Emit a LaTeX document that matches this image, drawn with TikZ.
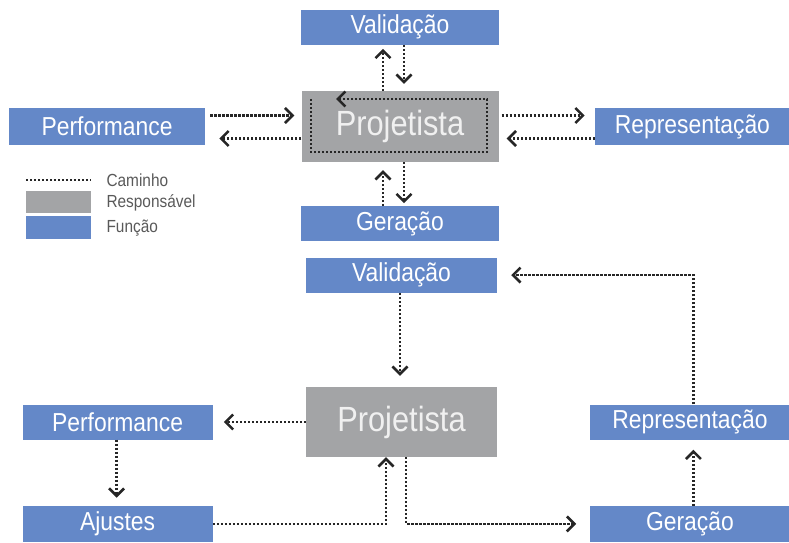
\documentclass[tikz,border=0pt]{standalone}
\usepackage{fontspec}
\setmainfont{Liberation Sans}[FakeStretch=0.88]
\usetikzlibrary{positioning,arrows.meta}
\definecolor{funcaoblue}{RGB}{100,136,200}
\definecolor{respgrey}{RGB}{163,164,166}

\begin{document}
\begin{tikzpicture}[x=1pt,y=1pt,
    funcao/.style={fill=funcaoblue,text=white,inner sep=0pt,font=\fontsize{26}{29}\selectfont},
    resp/.style={fill=respgrey,text=white!94!black,inner sep=0pt,font=\fontsize{35}{38}\selectfont},
    caminho/.style={draw=black!85,line width=2.6pt,dash pattern=on 2.2pt off 1.8pt,-{Straight Barb[length=7.5pt,width=15pt]}},
    legenda/.style={text=black!65,anchor=west,font=\fontsize{17.5}{19}\selectfont}]
        \useasboundingbox (0,0) rectangle (789,542);
        % upper diagram
        \node[resp,minimum width=197pt,minimum height=71pt] (tProj) at (400,415.5) {Projetista};
        \node[funcao,minimum width=198pt,minimum height=35pt,above=46pt of tProj] (tVal) {Validação};
        \node[funcao,minimum width=198pt,minimum height=35pt,below=44pt of tProj] (tGer) {Geração};
        \node[funcao,minimum width=196pt,minimum height=36pt,left=96pt of tProj] (tPerf) {Performance};
        \node[funcao,minimum width=195pt,minimum height=36pt,right=96pt of tProj] (tRep) {Representação};
        \draw[caminho,shorten >=4pt] ([xshift=-17pt]tProj.north) -- ([xshift=-17pt]tVal.south);
        \draw[caminho,shorten >=7pt] ([xshift=4pt]tVal.south) -- ([xshift=4pt]tProj.north);
        \draw[caminho,shorten >=8pt] ([xshift=-17pt]tGer.north) -- ([xshift=-17pt]tProj.south);
        \draw[caminho,shorten >=3pt] ([xshift=4pt]tProj.south) -- ([xshift=4pt]tGer.north);
        \draw[caminho,shorten <=5pt,shorten >=7pt] ([yshift=11pt]tPerf.east) -- ([yshift=11pt]tProj.west);
        \draw[caminho,shorten >=14pt] ([yshift=-12pt]tProj.west) -- ([yshift=-12pt]tPerf.east);
        \draw[caminho,shorten <=3pt,shorten >=10pt] ([yshift=11pt]tProj.east) -- ([yshift=11pt]tRep.west);
        \draw[caminho,shorten >=8pt] ([yshift=-12pt]tRep.west) -- ([yshift=-12pt]tProj.east);
        \draw[caminho] ([shift={(-89pt,27.5pt)}]tProj.center) -- ([shift={(-89pt,-25.5pt)}]tProj.center)
          -- ([shift={(87pt,-25.5pt)}]tProj.center) -- ([shift={(87pt,27.5pt)}]tProj.center)
          -- ([shift={(-64pt,27.5pt)}]tProj.center);
        % legend
        \coordinate (legA) at (26,362);
        \coordinate (legB) at (91,362);
        \draw[caminho,-,line width=2pt] (legA) -- (legB);
        \node[resp,minimum width=65pt,minimum height=22pt] (legResp) at (58.5,340) {};
        \node[funcao,minimum width=65pt,minimum height=23pt] (legFunc) at (58.5,314.5) {};
        \node[legenda] (txtCam) at (103,362) {Caminho};
        \node[legenda] (txtResp) at (103,339) {Responsável};
        \node[legenda] (txtFunc) at (103,314) {Função};
        % lower diagram
        \node[resp,minimum width=191pt,minimum height=70pt] (bProj) at (401.5,120) {Projetista};
        \node[funcao,minimum width=191pt,minimum height=35pt,above=94pt of bProj] (bVal) {Validação};
        \node[funcao,minimum width=190pt,minimum height=35pt,left=93pt of bProj] (bPerf) {Performance};
        \node[funcao,minimum width=190pt,minimum height=36pt,below=66pt of bPerf] (bAju) {Ajustes};
        \node[funcao,minimum width=199pt,minimum height=35pt,right=93pt of bProj] (bRep) {Representação};
        \node[funcao,minimum width=199pt,minimum height=36pt,below=66pt of bRep] (bGer) {Geração};
        \draw[caminho,shorten >=11pt] ([xshift=-1.5pt]bVal.south) -- ([xshift=-1.5pt]bProj.north);
        \draw[caminho,shorten >=11pt] (bProj.west) -- (bPerf.east);
        \draw[caminho,shorten >=8pt] ([xshift=-1pt]bPerf.south) -- ([xshift=-1pt]bAju.north);
        \draw[caminho] (bAju.east) -| ([xshift=-15.5pt]bProj.south);
        \draw[caminho,shorten >=14pt] ([xshift=4.5pt]bProj.south) |- (bGer.west);
        \draw[caminho,shorten >=10pt] ([xshift=3.5pt]bGer.north) -- ([xshift=3.5pt]bRep.south);
        \draw[caminho,shorten >=14pt] ([xshift=3.5pt]bRep.north) |- (bVal.east);
      \end{tikzpicture}
\end{document}
